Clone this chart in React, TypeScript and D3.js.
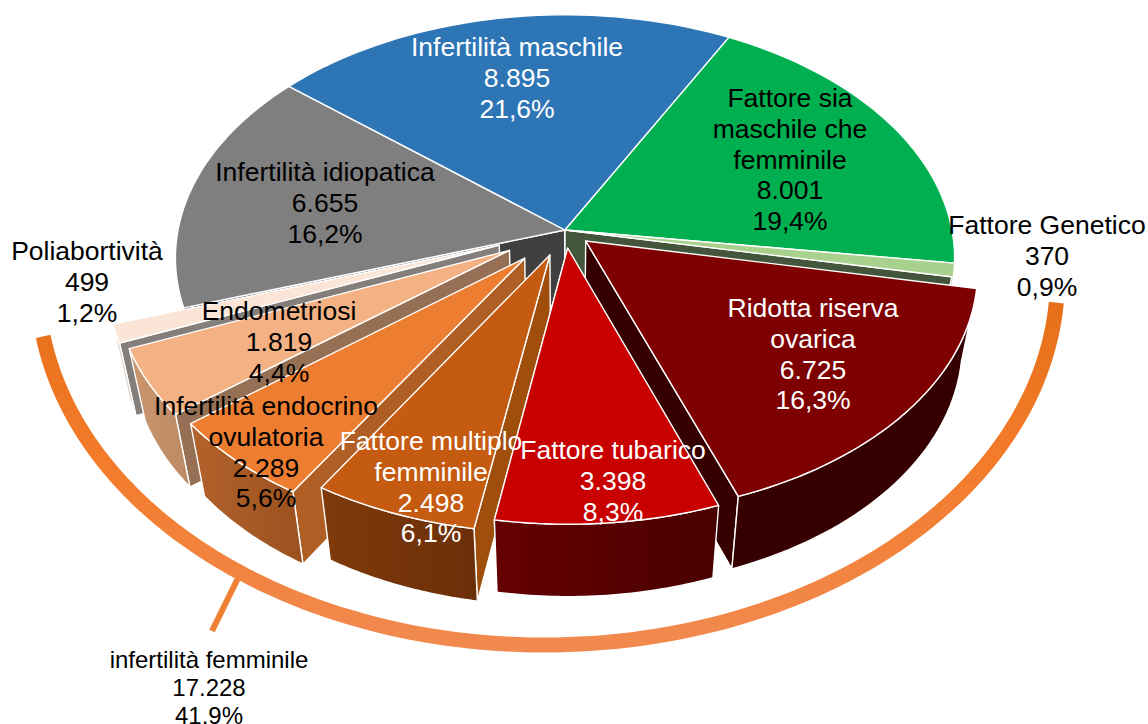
import React from "react";
import * as d3 from "d3";

const categories = ["Infertilità maschile", "Fattore sia maschile che femminile", "Fattore Genetico", "Ridotta riserva ovarica", "Fattore tubarico", "Fattore multiplo femminile", "Infertilità endocrino ovulatoria", "Endometriosi", "Poliabortività", "Infertilità idiopatica"];
const values = [8895, 8001, 370, 6725, 3398, 2498, 2289, 1819, 499, 6655];
const valueLabels = ["8.895", "8.001", "370", "6.725", "3.398", "2.498", "2.289", "1.819", "499", "6.655"];
const percentLabels = ["21,6%", "19,4%", "0,9%", "16,3%", "8,3%", "6,1%", "5,6%", "4,4%", "1,2%", "16,2%"];
const nameLines = [["Infertilità maschile"], ["Fattore sia", "maschile che", "femminile"], ["Fattore Genetico"], ["Ridotta riserva", "ovarica"], ["Fattore tubarico"], ["Fattore multiplo", "femminile"], ["Infertilità endocrino", "ovulatoria"], ["Endometriosi"], ["Poliabortività"], ["Infertilità idiopatica"]];
const groupLabel = ["infertilità femminile", "17.228", "41,9%"];

const explode = [0, 0, 0, 0.07, 0.075, 0.11, 0.155, 0.165, 0.18, 0];
const topColors = ["#2E75B6", "#00B050", "#A9D18E", "#7F0000", "#C80000", "#C55A11", "#ED7D31", "#F4B183", "#FBE5D6", "#7F7F7F"];
const sideColors = ["#1B4670", "#006A30", "#43553A", "#360000", "#360000", "#A04E0C", "#B05F24", "#957054", "#857F7B", "#404040"];
const wallFrom = ["#1B4670", "#006A30", "#66804F", "#360000", "#660000", "#7F3A0A", "#B3622A", "#C9966E", "#E6DAD0", "#4C4C4C"];
const wallTo = ["#1B4670", "#006A30", "#66804F", "#360000", "#480000", "#6B2F08", "#9A5220", "#BC8A64", "#CFC0B4", "#4C4C4C"];
const labelColors = ["#fff", "#000", "#000", "#fff", "#fff", "#fff", "#000", "#000", "#000", "#000"];
const labelCx = [517, 790, 1047, 813, 613, 431, 266, 279, 87, 325];
const labelFirstY = [47, 98, 225, 308, 450, 441, 406, 311, 251, 172];
const backSlices = [9, 0, 1, 2];
const frontSlices = [8, 7, 6, 5, 3, 4];

const CX = 565, CY = 230, R = 387, TILT = 0.62, K = 0.115, H = 73, BOTTOM = 0.963;
const LH = 30.8;

function project(X: number, Y: number, z: number): [number, number] {
  const w = 1 - K * Y;
  const s = z ? BOTTOM : 1;
  return [CX + (R * X / w) * s, CY + (R * TILT * Y / w) * s + (z * H) / w];
}

const line = d3.line();

export default function App() {
  const arcs = d3.pie<number>().sort(null).startAngle((-50 * Math.PI) / 180).endAngle((310 * Math.PI) / 180)(values);

  const slices = arcs.map((a, i) => {
    const mid = (a.startAngle + a.endAngle) / 2;
    const ox = explode[i] * Math.sin(mid);
    const oy = -explode[i] * Math.cos(mid);
    const rim = (z: number) =>
      d3.range(0, 41).map((k) => {
        const t = a.startAngle + ((a.endAngle - a.startAngle) * k) / 40;
        return project(ox + Math.sin(t), oy - Math.cos(t), z);
      });
    const apex0 = project(ox, oy, 0);
    const apex1 = project(ox, oy, 1);
    const r0 = rim(0), r1 = rim(1);
    const rightHalf = mid < Math.PI;
    const e = rightHalf ? 40 : 0;
    return {
      i,
      top: line([apex0, ...r0])! + "Z",
      wall: line([...r0, ...[...r1].reverse()])! + "Z",
      side: line([apex0, r0[e], r1[e], apex1])! + "Z",
    };
  });

  const ell = { cx: 547.5, cy: 280, rx: 510, ry: 365, rot: (0.5 * Math.PI) / 180 };
  const tStart = Math.asin(27 / ell.ry);
  const tEnd = Math.PI - Math.asin(52 / ell.ry);
  const bracketPts = d3.range(0, 121).map((k) => {
    const t = tStart + ((tEnd - tStart) * k) / 120;
    const dx = ell.rx * Math.cos(t), dy = ell.ry * Math.sin(t);
    return [ell.cx + dx * Math.cos(ell.rot) + dy * Math.sin(ell.rot), ell.cy - dx * Math.sin(ell.rot) + dy * Math.cos(ell.rot)] as [number, number];
  });

  const font = "'Liberation Sans', Arial, sans-serif";
  const edge = { stroke: "#fff", strokeWidth: 1.4, strokeLinejoin: "round" as const };

  const under = (i: number) => (
    <g key={`u${i}`} {...edge}>
      <path d={slices[i].side} fill={sideColors[i]} />
      <path d={slices[i].wall} fill={`url(#wall${i})`} />
    </g>
  );
  const top = (i: number) => <path key={`t${i}`} {...edge} d={slices[i].top} fill={topColors[i]} />;

  return (
    <svg width={1148} height={724} viewBox="0 0 1148 724" style={{ position: "absolute", left: 0, top: 0 }}>
      <defs>
        {values.map((_, i) => (
          <linearGradient key={i} id={`wall${i}`} x1="0" x2="1" y1="0" y2="0">
            <stop offset="0" stopColor={wallFrom[i]} />
            <stop offset="1" stopColor={wallTo[i]} />
          </linearGradient>
        ))}
        <linearGradient id="bracket" gradientUnits="userSpaceOnUse" x1="0" x2="0" y1="300" y2="650">
          <stop offset="0" stopColor="#E66F19" />
          <stop offset="0.45" stopColor="#F37B2A" />
          <stop offset="1" stopColor="#F18A50" />
        </linearGradient>
      </defs>

      {backSlices.map(under)}
      {backSlices.map(top)}
      {frontSlices.map((i) => (
        <g key={i}>
          {under(i)}
          {top(i)}
        </g>
      ))}

      <line x1={240} y1={574} x2={212} y2={631} stroke="#EF8034" strokeWidth={6} />
      <path d={line(bracketPts)!} fill="none" stroke="url(#bracket)" strokeWidth={15} />

      <g fontFamily={font} fontSize={26.5} textAnchor="middle">
        {categories.map((c, i) => {
          const rows = [...nameLines[i], valueLabels[i], percentLabels[i]];
          return (
            <text key={c} fill={labelColors[i]}>
              {rows.map((r, j) => (
                <tspan key={j} x={labelCx[i]} y={labelFirstY[i] + j * LH} dominantBaseline="central">
                  {r}
                </tspan>
              ))}
            </text>
          );
        })}
      </g>
      <g fontFamily={font} fontSize={24} textAnchor="middle" fill="#000">
        {groupLabel.map((r, j) => (
          <text key={j} x={209} y={659 + j * 28} dominantBaseline="central">
            {r}
          </text>
        ))}
      </g>
    </svg>
  );
}
